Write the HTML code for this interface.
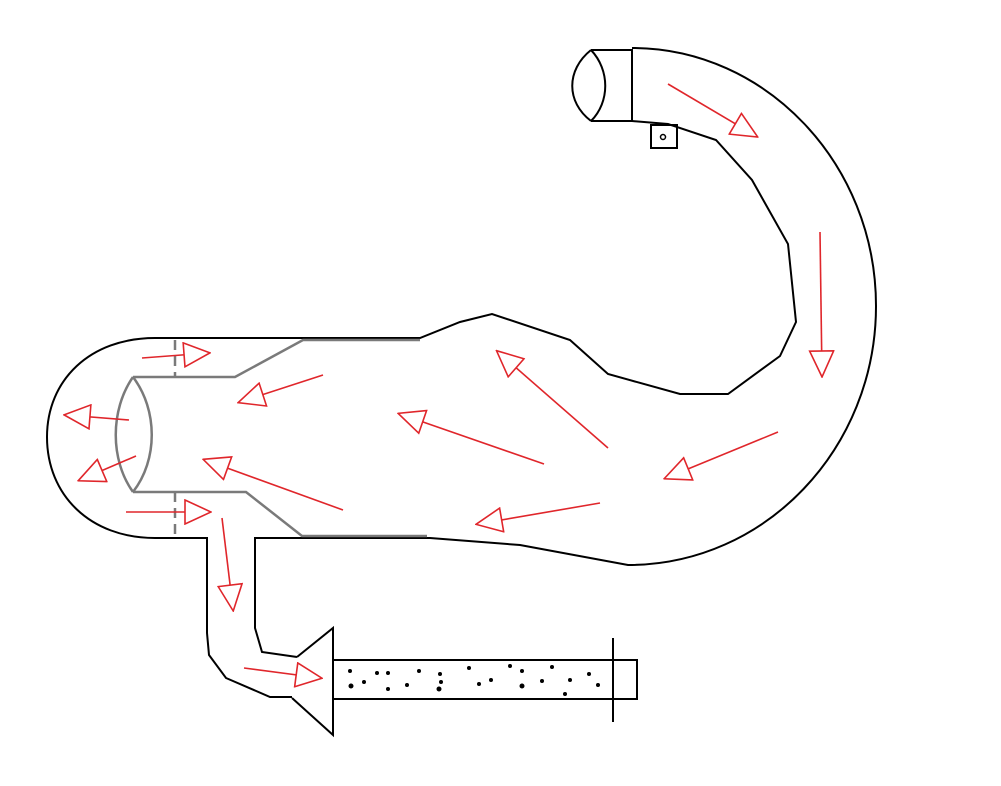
<!DOCTYPE html>
<html><head><meta charset="utf-8"><style>html,body{margin:0;padding:0;background:#fff}svg{display:block}</style></head>
<body>
<svg width="1001" height="786" viewBox="0 0 1001 786" xmlns="http://www.w3.org/2000/svg">
<defs>
<marker id="a" viewBox="-1 -1 28 26" refX="24" refY="12" markerWidth="28" markerHeight="26" markerUnits="userSpaceOnUse" orient="auto">
<path d="M0,0 L26,12 L0,24 Z" fill="#fff" stroke="#e0262b" stroke-width="1.6"/>
</marker>
</defs>
<g fill="none" stroke="#000" stroke-width="2">
<!-- main body top -->
<path d="M155,338 L420,338 L460,322 L492,314 L570,340 L608,374 L680,394 L728,394 L780,356 L796,322 L788,244 L752,180 L716,140 L668,124 L632,121"/>
<path d="M632,48 C766,48 876,164 876,306 C876,448 766,565 628,565 L520,545 L430,538 L255,538 L255,628 L262,652 L297,657"/>
<path d="M155,338 C90,338 47,380 47,437 C47,495 90,538 155,538 L207,538 L207,633 L209,655 L226,678 L270,697 L292,697"/>
<!-- nozzle -->
<path d="M591,50 L632,50 L632,121 L591,121"/>
<path d="M591,50 C566,70 566,102 591,121"/>
<path d="M591,50 C610,70 610,102 591,121"/>
<rect x="651" y="125" width="26" height="23"/>
<circle cx="663" cy="137" r="2.5" stroke-width="1.5"/>
<!-- funnel & pipe -->
<path d="M297,657 L333,628 L333,735 L292,698"/>
<path d="M333,660 L637,660 L637,699 L333,699"/>
<path d="M613,638 L613,722"/>
</g>
<g fill="none" stroke="#7a7a7a" stroke-width="2.5">
<path d="M133,377 L235,377 L303,340 L420,340"/>
<path d="M133,492 L246,492 L302,536 L427,536"/>
<path d="M133,377 C110,410 110,460 133,492"/>
<path d="M133,377 C158,410 158,460 133,492"/>
<path d="M175,340 L175,377 M175,492 L175,538" stroke-dasharray="10,6"/>
</g>
<g fill="#000">
<circle cx="350" cy="671" r="2"/><circle cx="351" cy="686" r="2.5"/><circle cx="364" cy="682" r="2"/><circle cx="377" cy="673" r="2"/><circle cx="388" cy="673" r="2"/><circle cx="388" cy="689" r="2"/><circle cx="407" cy="685" r="2"/><circle cx="419" cy="671" r="2"/><circle cx="440" cy="674" r="2"/><circle cx="441" cy="682" r="2"/><circle cx="439" cy="689" r="2.5"/><circle cx="469" cy="668" r="2"/><circle cx="479" cy="684" r="2"/><circle cx="491" cy="680" r="2"/><circle cx="510" cy="666" r="2"/><circle cx="522" cy="671" r="2"/><circle cx="522" cy="686" r="2.5"/><circle cx="542" cy="681" r="2"/><circle cx="552" cy="667" r="2"/><circle cx="565" cy="694" r="2"/><circle cx="570" cy="680" r="2"/><circle cx="589" cy="674" r="2"/><circle cx="598" cy="685" r="2"/>
</g>
<g stroke="#e0262b" stroke-width="1.6" marker-end="url(#a)">
<line x1="668" y1="84" x2="756" y2="136"/>
<line x1="820" y1="232" x2="822" y2="375"/>
<line x1="778" y1="432" x2="666" y2="478"/>
<line x1="608" y1="448" x2="498" y2="352"/>
<line x1="544" y1="464" x2="400" y2="414"/>
<line x1="600" y1="503" x2="478" y2="524"/>
<line x1="323" y1="375" x2="240" y2="402"/>
<line x1="343" y1="510" x2="205" y2="460"/>
<line x1="142" y1="358" x2="208" y2="353"/>
<line x1="126" y1="512" x2="209" y2="512"/>
<line x1="129" y1="420" x2="66" y2="415"/>
<line x1="136" y1="456" x2="80" y2="480"/>
<line x1="222" y1="518" x2="233" y2="609"/>
<line x1="244" y1="668" x2="320" y2="678"/>
</g>
</svg>
</body></html>
